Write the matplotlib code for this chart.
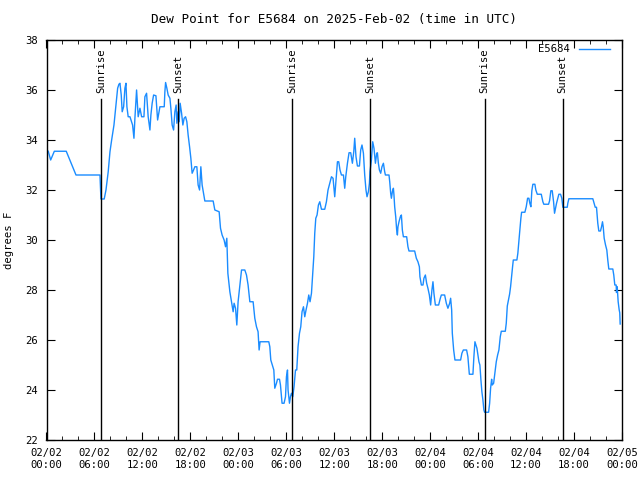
import datetime as dt
import matplotlib
matplotlib.use('Agg')
import matplotlib.pyplot as plt
import matplotlib.dates as mdates

# hours after 2025-02-02 00:00 UTC and dew point (F)
hours = [
    0.22, 0.52, 0.98, 2.47, 3.69, 6.69, 6.75, 6.81, 7.22, 7.44, 7.72, 7.94,
    8.15, 8.44, 8.65, 8.77, 8.90, 9.06, 9.19, 9.35, 9.47, 9.65, 9.81, 9.94,
    10.06, 10.22, 10.44, 10.77, 10.94, 11.06, 11.27, 11.47, 11.69, 11.90,
    12.19, 12.31, 12.52, 12.72, 12.94, 13.06, 13.22, 13.40, 13.69, 13.90,
    14.19, 14.73, 14.81, 14.90, 15.06, 15.22, 15.44, 15.56, 15.72, 15.90,
    16.06, 16.22, 16.31, 16.47, 16.60, 16.72, 16.90, 17.06, 17.22, 17.40,
    17.56, 17.72, 17.90, 18.06, 18.22, 18.40, 18.56, 18.81, 18.97, 19.15,
    19.31, 19.47, 19.65, 19.81, 20.85, 21.06, 21.60, 21.77, 21.97, 22.22,
    22.40, 22.56, 22.69, 22.94, 23.15, 23.35, 23.47, 23.65, 23.81, 23.97,
    24.19, 24.40, 24.81, 25.02, 25.22, 25.44, 25.85, 26.06, 26.27, 26.47,
    26.60, 26.72, 27.81, 27.94, 28.06, 28.22, 28.44, 28.56, 28.77, 28.90,
    29.15, 29.27, 29.40, 29.47, 29.72, 29.90, 30.02, 30.15, 30.22, 30.40,
    30.52, 30.65, 30.81, 30.97, 31.15, 31.31, 31.47, 31.65, 31.81, 31.97,
    32.15, 32.31, 32.47, 32.65, 32.81, 32.97, 33.15, 33.27, 33.44, 33.56,
    33.69, 33.85, 34.02, 34.19, 34.40, 34.81, 35.02, 35.22, 35.44, 35.65,
    35.85, 36.06, 36.19, 36.40, 36.56, 36.72, 36.90, 37.15, 37.31, 37.44,
    37.65, 37.85, 38.06, 38.27, 38.44, 38.56, 38.72, 38.90, 39.15, 39.31,
    39.47, 39.65, 39.81, 39.97, 40.10, 40.27, 40.40, 40.47, 40.65, 40.81,
    40.97, 41.15, 41.31, 41.40, 41.52, 41.65, 41.81, 41.97, 42.15, 42.31,
    42.40, 42.85, 42.94, 43.06, 43.15, 43.27, 43.40, 43.47, 43.56, 43.69,
    43.81, 43.90, 43.97, 44.10, 44.27, 44.40, 44.52, 44.65, 45.06, 45.22,
    45.35, 46.06, 46.27, 46.47, 46.65, 46.72, 46.90, 47.10, 47.22, 47.40,
    47.56, 47.72, 47.90, 48.06, 48.22, 48.35, 48.47, 48.65, 49.06, 49.27,
    49.40, 49.81, 50.02, 50.22, 50.44, 50.56, 50.69, 50.77, 50.94, 51.10,
    51.81, 51.97, 52.15, 52.56, 52.72, 52.90, 53.35, 53.47, 53.60, 53.72,
    53.85, 53.97, 54.10, 54.22, 54.35, 54.47, 54.60, 54.72, 54.81, 55.31,
    55.44, 55.56, 55.69, 55.77, 55.94, 56.10, 56.27, 56.44, 56.60, 56.77,
    56.90, 57.40, 57.52, 57.65, 57.77, 57.94, 58.06, 58.19, 58.31, 58.40,
    58.85, 58.97, 59.10, 59.22, 59.35, 59.44, 59.85, 60.02, 60.19, 60.35,
    60.47, 60.60, 60.72, 60.85, 61.10, 61.22, 61.40, 61.90, 62.10, 62.22,
    62.81, 62.94, 63.10, 63.27, 63.44, 63.56, 63.69, 63.81, 63.97, 64.10,
    64.31, 64.47, 64.60, 65.15, 65.22, 65.35, 68.35, 68.47, 68.65, 68.81,
    68.97, 69.10, 69.31, 69.44, 69.56, 69.65, 69.77, 69.94, 70.10, 70.22,
    70.35, 70.85, 70.97, 71.10, 71.27, 71.31, 71.40, 71.52, 71.65, 71.72,
    71.77,
]
dewpt = [
    33.55, 33.2, 33.55, 33.55, 32.6, 32.6, 32.13, 31.64, 31.64, 32.0, 32.73, 33.53,
    34.0, 34.6, 35.27, 35.67, 36.07, 36.23, 36.27, 35.8, 35.13, 35.33, 36.07, 36.27,
    35.33, 34.93, 34.93, 34.6, 34.07, 34.87, 36.0, 34.93, 35.27, 34.93,
    34.93, 35.73, 35.87, 34.93, 34.4, 35.0, 35.47, 35.8, 35.77, 34.8,
    35.33, 35.33, 35.93, 36.3, 36.07, 35.8, 35.67, 35.27, 34.6, 34.4,
    35.13, 35.4, 34.67, 35.13, 34.73, 35.47, 35.07, 34.6, 34.87, 34.93,
    34.73, 34.2, 33.73, 33.27, 32.67, 32.8, 32.93, 32.93, 32.2, 32.0,
    32.93, 32.2, 31.87, 31.56, 31.56, 31.2, 31.13, 30.47, 30.2, 30.0,
    29.73, 30.07, 28.67, 27.93, 27.53, 27.13, 27.47, 27.27, 26.6, 27.53,
    28.2, 28.8, 28.8, 28.6, 28.2, 27.53, 27.53, 26.87, 26.53, 26.33,
    25.6, 25.93, 25.93, 25.73, 25.2, 25.03, 24.8, 24.07, 24.27, 24.43,
    24.43, 24.2, 23.73, 23.47, 23.47, 23.73, 24.53, 24.8, 24.0, 23.47,
    23.73, 23.87, 23.73, 24.13, 24.8, 24.8, 25.73, 26.27, 26.53, 27.13,
    27.33, 26.93, 27.2, 27.47, 27.8, 27.53, 27.87, 28.47, 29.33, 30.27,
    30.87, 31.0, 31.4, 31.53, 31.23, 31.23, 31.53, 32.0, 32.27, 32.53,
    32.47, 31.73, 32.27, 33.13, 33.13, 32.8, 32.6, 32.6, 32.07, 32.53,
    33.07, 33.49, 33.49, 33.07, 33.53, 34.07, 33.33, 32.96, 32.96, 33.6,
    33.8, 33.47, 32.6, 32.0, 31.73, 31.93, 32.27, 32.73, 33.2, 33.93,
    33.67, 33.07, 33.47, 33.49, 33.07, 32.8, 32.67, 32.93, 33.07, 32.73,
    32.6, 32.6, 32.33, 31.87, 31.67, 31.93, 32.07, 31.8, 31.33, 30.93,
    30.4, 30.2, 30.53, 30.73, 30.93, 31.0, 30.4, 30.13, 30.13, 29.73,
    29.56, 29.56, 29.27, 29.13, 28.93, 28.53, 28.2, 28.2, 28.47, 28.6,
    28.27, 28.07, 27.8, 27.4, 28.0, 28.33, 27.87, 27.4, 27.4, 27.67,
    27.8, 27.8, 27.47, 27.27, 27.47, 27.67, 27.2, 26.27, 25.6, 25.2,
    25.2, 25.47, 25.6, 25.6, 25.33, 24.63, 24.63, 25.33, 25.93, 25.8,
    25.67, 25.4, 25.13, 25.0, 24.4, 23.93, 23.6, 23.2, 23.11, 23.11,
    23.47, 24.07, 24.43, 24.2, 24.27, 24.69, 25.13, 25.4, 25.6, 26.13,
    26.35, 26.35, 26.67, 27.36, 27.56, 27.84, 28.13, 28.56, 28.93, 29.2,
    29.2, 29.47, 29.93, 30.4, 30.87, 31.11, 31.11, 31.33, 31.67, 31.67,
    31.47, 31.33, 31.97, 32.23, 32.23, 32.0, 31.83, 31.83, 31.53, 31.43,
    31.43, 31.57, 31.97, 31.97, 31.53, 31.07, 31.27, 31.47, 31.67, 31.83,
    31.83, 31.67, 31.31, 31.31, 31.47, 31.65, 31.65, 31.51, 31.31, 31.31,
    30.67, 30.36, 30.36, 30.53, 30.73, 30.53, 30.07, 29.8, 29.6, 29.2,
    28.84, 28.84, 28.6, 28.2, 28.2, 27.9, 28.13, 27.53, 27.2, 27.09,
    26.64,
]

sun_labels = ['Sunrise', 'Sunset', 'Sunrise', 'Sunset', 'Sunrise', 'Sunset']
sun_times = ['2025-02-02 06:51', '2025-02-02 16:30', '2025-02-03 06:46',
             '2025-02-03 16:31', '2025-02-04 06:49', '2025-02-04 16:34']

start = dt.datetime(2025, 2, 2)
times = [start + dt.timedelta(hours=h) for h in hours]

plt.rcParams['font.family'] = ['DejaVu Sans Mono']
plt.rcParams['font.size'] = 7.6

fig = plt.figure(figsize=(6.4, 4.8), dpi=100)
ax = fig.add_axes([46.5 / 640, 40 / 480, 575.5 / 640, 400 / 480])

ax.plot(times, dewpt, color='#1a8cff', linewidth=1, label='E5684')

for lab, t in zip(sun_labels, sun_times):
    tt = dt.datetime.strptime(t, '%Y-%m-%d %H:%M')
    ax.axvline(tt, ymin=0, ymax=0.853, color='black', linewidth=1)
    ax.text(tt, 0.868, lab, transform=ax.get_xaxis_transform(), rotation=90,
            ha='center', va='bottom')

ax.set_xlim(start, start + dt.timedelta(days=3))
ax.set_ylim(22, 38)
ax.set_yticks(range(22, 39, 2))
ax.xaxis.set_major_locator(mdates.HourLocator(byhour=[0, 6, 12, 18]))
ax.xaxis.set_minor_locator(mdates.HourLocator(byhour=range(0, 24, 2)))
ax.xaxis.set_major_formatter(mdates.DateFormatter('%m/%d\n%H:%M'))
ax.tick_params(which='both', direction='in', top=True, right=True, pad=6)
ax.tick_params(which='major', length=6)
ax.tick_params(which='minor', length=3)
for s in ax.spines.values():
    s.set_linewidth(1)

ax.set_ylabel('degrees F')
ax.yaxis.set_label_coords(-0.056, 0.5)
ax.set_title('Dew Point for E5684 on 2025-Feb-02 (time in UTC)', pad=12)
ax.legend(loc='upper right', bbox_to_anchor=(0.9865, 1.0), frameon=False,
          handlelength=2.9, markerfirst=False, borderaxespad=0.0,
          handletextpad=0.9)

fig.savefig('out.png')
